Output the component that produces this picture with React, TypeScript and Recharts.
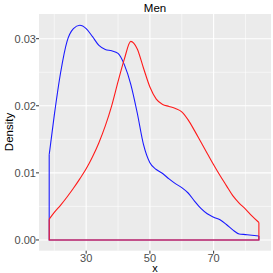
import { CartesianGrid, Line, LineChart, XAxis, YAxis } from 'recharts';

// density estimates, age grid shared by both groups
const ages = [
  18.4, 20, 22, 24, 26, 28, 30, 32, 34, 36, 38, 40, 42, 44, 46, 48, 50, 52, 54,
  56, 58, 60, 62, 64, 66, 68, 70, 72, 74, 76, 78, 80, 82, 84.2,
];

const blueDensity = [
  0.0127, 0.0186, 0.025, 0.0296, 0.0315, 0.032, 0.0315, 0.0303, 0.029,
  0.0284, 0.0282, 0.0278, 0.0261, 0.0232, 0.019, 0.0142, 0.0115, 0.0105,
  0.0099, 0.0091, 0.0084, 0.0078, 0.007, 0.0058, 0.0047, 0.0039, 0.0034,
  0.003, 0.0023, 0.0015, 0.0009, 0.0008, 0.0007, 0.0006,
];

const redDensity = [
  0.0031, 0.0041, 0.0052, 0.0064, 0.0077, 0.0091, 0.0106, 0.0124, 0.0145,
  0.017, 0.02, 0.0236, 0.027, 0.0296, 0.0285, 0.0256, 0.0228, 0.021, 0.0202,
  0.0199, 0.0196, 0.0191, 0.0179, 0.0163, 0.0146, 0.0129, 0.0112, 0.0096,
  0.0081, 0.0066, 0.0055, 0.0046, 0.0036, 0.0026,
];

const xTicks = [30, 50, 70];
const xMinor = [20, 40, 60, 80];
const yTicks = [0, 0.01, 0.02, 0.03];
const yMinor = [0.005, 0.015, 0.025];

const curve = (vals: number[]) => ages.map((x, i) => ({ x, y: vals[i] }));

// closing segments of the density polygon (ends and baseline)
const edges = (vals: number[]) => {
  const first = ages[0];
  const last = ages[ages.length - 1];
  return [
    { x: first, y: vals[0] },
    { x: first, y: 0 },
    { x: last, y: 0 },
    { x: last, y: vals[vals.length - 1] },
  ];
};

const font = '"Liberation Sans", Arial, Helvetica, sans-serif';

const label = (extra: React.CSSProperties): React.CSSProperties => ({
  position: 'absolute',
  fontFamily: font,
  fontSize: 11.5,
  lineHeight: '12px',
  color: '#000',
  whiteSpace: 'nowrap',
  ...extra,
});

export default function App() {
  return (
    <div style={{ position: 'relative', width: 273, height: 273 }}>
      <style>{'body{margin:0}'}</style>
      <LineChart
        width={273}
        height={273}
        margin={{ top: 14, right: 2, bottom: 0, left: 0 }}
        style={{ fontFamily: font }}
      >
        <CartesianGrid
          fill="#EBEBEB"
          stroke="#FFFFFF"
          strokeWidth={0.55}
          verticalValues={xMinor}
          horizontalValues={yMinor}
        />
        <CartesianGrid
          stroke="#FFFFFF"
          strokeWidth={1.1}
          verticalValues={xTicks}
          horizontalValues={yTicks}
        />
        <XAxis
          type="number"
          dataKey="x"
          domain={[15.2, 88]}
          ticks={xTicks}
          allowDataOverflow
          height={22.3}
          axisLine={false}
          tickSize={3}
          tickMargin={0}
          tickLine={{ stroke: '#333333' }}
          tick={{ fill: '#4D4D4D', fontSize: 11 }}
        />
        <YAxis
          type="number"
          domain={[-0.0016, 0.03368]}
          ticks={yTicks}
          allowDataOverflow
          width={39}
          axisLine={false}
          tickSize={3}
          tickMargin={0}
          tickLine={{ stroke: '#333333' }}
          tick={{ fill: '#4D4D4D', fontSize: 11 }}
          tickFormatter={(v: number) => v.toFixed(2)}
        />
        <Line
          data={curve(blueDensity)}
          dataKey="y"
          type="monotone"
          stroke="#1A1AFF"
          strokeWidth={1.1}
          dot={false}
          activeDot={false}
          isAnimationActive={false}
        />
        <Line
          data={edges(blueDensity)}
          dataKey="y"
          type="linear"
          stroke="#1A1AFF"
          strokeWidth={1.1}
          dot={false}
          activeDot={false}
          isAnimationActive={false}
        />
        <Line
          data={curve(redDensity)}
          dataKey="y"
          type="monotone"
          stroke="#FF1A1A"
          strokeWidth={1.1}
          dot={false}
          activeDot={false}
          isAnimationActive={false}
        />
        <Line
          data={edges(redDensity)}
          dataKey="y"
          type="linear"
          stroke="#FF1A1A"
          strokeWidth={1.1}
          dot={false}
          activeDot={false}
          isAnimationActive={false}
        />
      </LineChart>
      <div style={label({ left: 155, top: 7.5, transform: 'translate(-50%, -50%)' })}>
        Men
      </div>
      <div
        style={label({
          left: 8.5,
          top: 132,
          transform: 'translate(-50%, -50%) rotate(-90deg)',
        })}
      >
        Density
      </div>
      <div
        style={label({
          left: 155,
          top: 268,
          fontSize: 11,
          lineHeight: '10px',
          transform: 'translate(-50%, -50%)',
        })}
      >
        x
      </div>
    </div>
  );
}
